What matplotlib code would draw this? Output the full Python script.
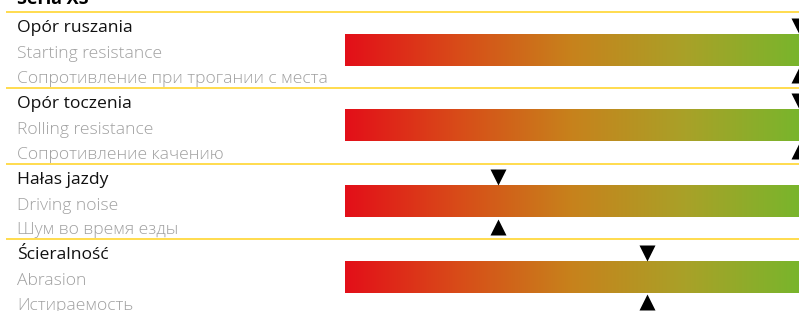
import matplotlib.pyplot as plt
import numpy as np
from matplotlib.colors import LinearSegmentedColormap

plt.rcParams['font.family'] = ['Open Sans', 'DejaVu Sans']

title = 'Seria XS'
labels_pl = ['Opór ruszania', 'Opór toczenia', 'Hałas jazdy', 'Ścieralność']
labels_en = ['Starting resistance', 'Rolling resistance', 'Driving noise', 'Abrasion']
labels_ru = ['Сопротивление при трогании с места', 'Сопротивление качению',
             'Шум во время езды', 'Истираемость']
scores = [100, 100, 33.6, 66.6]   # position on the red-green scale, 0..100

W, H = 799, 311
fig = plt.figure(figsize=(W / 100, H / 100), dpi=100)

# full-figure axes in pixel units for text and separators
bg = fig.add_axes([0, 0, 1, 1])
bg.set_xlim(0, W)
bg.set_ylim(H, 0)
bg.axis('off')

# scale axes: bar area starts at x=345 px
bx0 = 345 / W
ax = fig.add_axes([bx0, 0, 1 - bx0, 1])
ax.set_xlim(0, 100)
ax.set_ylim(H, 0)
ax.axis('off')

cmap = LinearSegmentedColormap.from_list('rg', [
    (0.0, '#e30f19'), (0.25, '#d84c18'), (0.5, '#c7821c'),
    (0.75, '#a9a128'), (1.0, '#79b52c')])
grad = np.linspace(0, 1, 256).reshape(1, -1)

top0, pitch = 12.3, 75.6
fs = 12.6
bg.text(17, top0 - 8, title, fontsize=13, fontweight='bold', color='black', va='baseline')

for i in range(len(labels_pl)):
    y = top0 + i * pitch
    bg.plot([6, W], [y, y], color='#ffd21e', lw=1.1, solid_capstyle='butt')
    bg.text(17, y + 20, labels_pl[i], fontsize=fs, color='#111111', va='baseline',
            fontweight='medium')
    bg.text(17, y + 46, labels_en[i], fontsize=fs, color='#a0a0a0', va='baseline',
            fontweight='light')
    bg.text(17, y + 71, labels_ru[i], fontsize=fs, color='#a0a0a0', va='baseline',
            fontweight='light')

    bar_top, bar_bot = y + 22, y + 53.5
    ax.imshow(grad, cmap=cmap, aspect='auto', extent=[0, 100, bar_bot, bar_top],
              interpolation='bilinear', zorder=1)
    ax.plot(scores[i], bar_top - 8.5, marker='v', ms=11.5, color='black',
            mec='none', zorder=3)
    ax.plot(scores[i], bar_bot + 9.5, marker='^', ms=11.5, color='black',
            mec='none', zorder=3)

ax.set_xlim(0, 100)
ax.set_ylim(H, 0)
fig.savefig('out.png', dpi=100)
